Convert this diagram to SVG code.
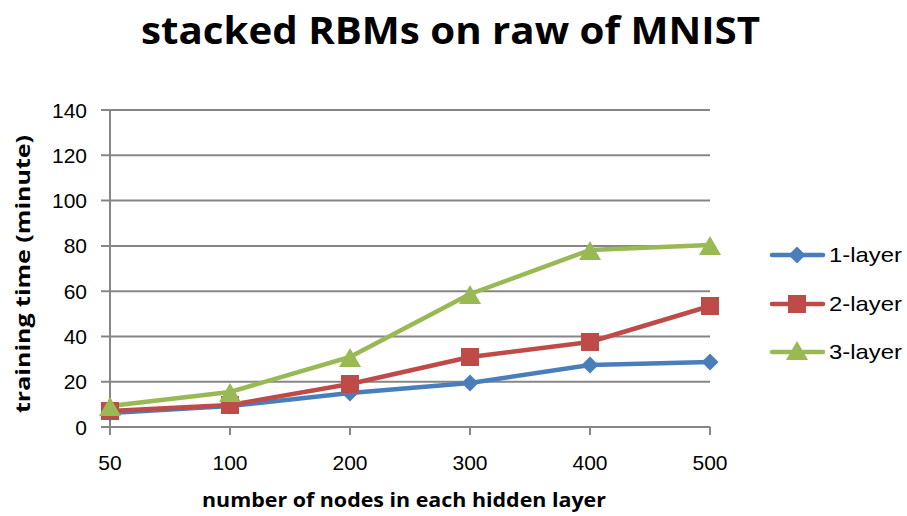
<svg xmlns="http://www.w3.org/2000/svg" width="907" height="516" viewBox="0 0 907 516">
<defs>
<style>
.grid{stroke:#868686;stroke-width:2;fill:none}
.tick{font-family:"Liberation Sans",Arial,sans-serif;font-size:21px;fill:#000}
.ytick{text-anchor:end}
.xtick{text-anchor:middle}
.ttl{font-family:"Open Sans","Liberation Sans",sans-serif;font-weight:bold;fill:#000}
.s1{stroke:#4A7EBB;stroke-width:4.5;fill:none;stroke-linejoin:round;stroke-linecap:round}
.s2{stroke:#BE4B48;stroke-width:4.5;fill:none;stroke-linejoin:round;stroke-linecap:round}
.s3{stroke:#98B954;stroke-width:4.5;fill:none;stroke-linejoin:round;stroke-linecap:round}
.leg{font-family:"Liberation Sans",Arial,sans-serif;font-size:21px;fill:#000}
</style>
<path id="dia" d="M0,-8.5 L8.5,0 L0,8.5 L-8.5,0 Z" fill="#4A7EBB"/>
<rect id="sq" x="-9" y="-9" width="18" height="18" fill="#BE4B48"/>
<path id="tri" d="M0,-11 L11,8 L-11,8 Z" fill="#98B954"/>
</defs>
<rect width="907" height="516" fill="#fff"/>
<text class="ttl" x="450.5" y="44" font-size="38" text-anchor="middle" textLength="619" lengthAdjust="spacingAndGlyphs">stacked RBMs on raw of MNIST</text>
<g id="axes">
<path class="grid" d="M101,110H710M101,155.3H710M101,200.6H710M101,245.9H710M101,291.2H710M101,336.5H710M101,381.8H710M101,427H710"/>
<path class="grid" d="M110,110V435M230,427V435M350,427V435M470,427V435M590,427V435M710,427V435"/>
</g>
<g id="yticks">
<text class="tick ytick" x="87" y="117.5">140</text>
<text class="tick ytick" x="87" y="162.8">120</text>
<text class="tick ytick" x="87" y="208">100</text>
<text class="tick ytick" x="87" y="253.4">80</text>
<text class="tick ytick" x="87" y="298.7">60</text>
<text class="tick ytick" x="87" y="344">40</text>
<text class="tick ytick" x="87" y="389.3">20</text>
<text class="tick ytick" x="87" y="434.5">0</text>
</g>
<g id="xticks">
<text class="tick xtick" x="110" y="470">50</text>
<text class="tick xtick" x="230" y="470">100</text>
<text class="tick xtick" x="350" y="470">200</text>
<text class="tick xtick" x="470" y="470">300</text>
<text class="tick xtick" x="590" y="470">400</text>
<text class="tick xtick" x="710" y="470">500</text>
</g>
<text class="ttl" x="404" y="507" font-size="20" text-anchor="middle" textLength="404" lengthAdjust="spacingAndGlyphs">number of nodes in each hidden layer</text>
<text class="ttl" transform="translate(30,274) rotate(-90)" font-size="20" text-anchor="middle" textLength="278" lengthAdjust="spacingAndGlyphs">training time (minute)</text>
<g id="connectors">
<polyline class="s1" points="110,413 230,406 350,393 470,383 590,365 710,362"/>
<polyline class="s2" points="110,411 230,405 350,384 470,357 590,342 710,306"/>
<polyline class="s3" points="110,406 230,392 350,357 470,294 590,250 710,245"/>
</g>
<g id="series-1-layer">
<use href="#dia" x="110" y="413"/><use href="#dia" x="230" y="406"/><use href="#dia" x="350" y="393"/><use href="#dia" x="470" y="383"/><use href="#dia" x="590" y="365"/><use href="#dia" x="710" y="362"/>
</g>
<g id="series-2-layer">
<use href="#sq" x="110" y="411"/><use href="#sq" x="230" y="405"/><use href="#sq" x="350" y="384"/><use href="#sq" x="470" y="357"/><use href="#sq" x="590" y="342"/><use href="#sq" x="710" y="306"/>
</g>
<g id="series-3-layer">
<use href="#tri" x="110" y="408"/><use href="#tri" x="230" y="394"/><use href="#tri" x="350" y="359"/><use href="#tri" x="470" y="296"/><use href="#tri" x="590" y="252"/><use href="#tri" x="710" y="247"/>
</g>
<g id="legend">
<line class="s1" x1="772" y1="255" x2="823" y2="255"/><use href="#dia" x="797" y="255"/>
<text class="leg" x="829" y="262" textLength="73" lengthAdjust="spacingAndGlyphs">1-layer</text>
<line class="s2" x1="772" y1="304" x2="823" y2="304"/><use href="#sq" x="797" y="304"/>
<text class="leg" x="829" y="311" textLength="73" lengthAdjust="spacingAndGlyphs">2-layer</text>
<line class="s3" x1="772" y1="352" x2="823" y2="352"/><use href="#tri" x="797" y="352"/>
<text class="leg" x="829" y="359" textLength="73" lengthAdjust="spacingAndGlyphs">3-layer</text>
</g>
</svg>
